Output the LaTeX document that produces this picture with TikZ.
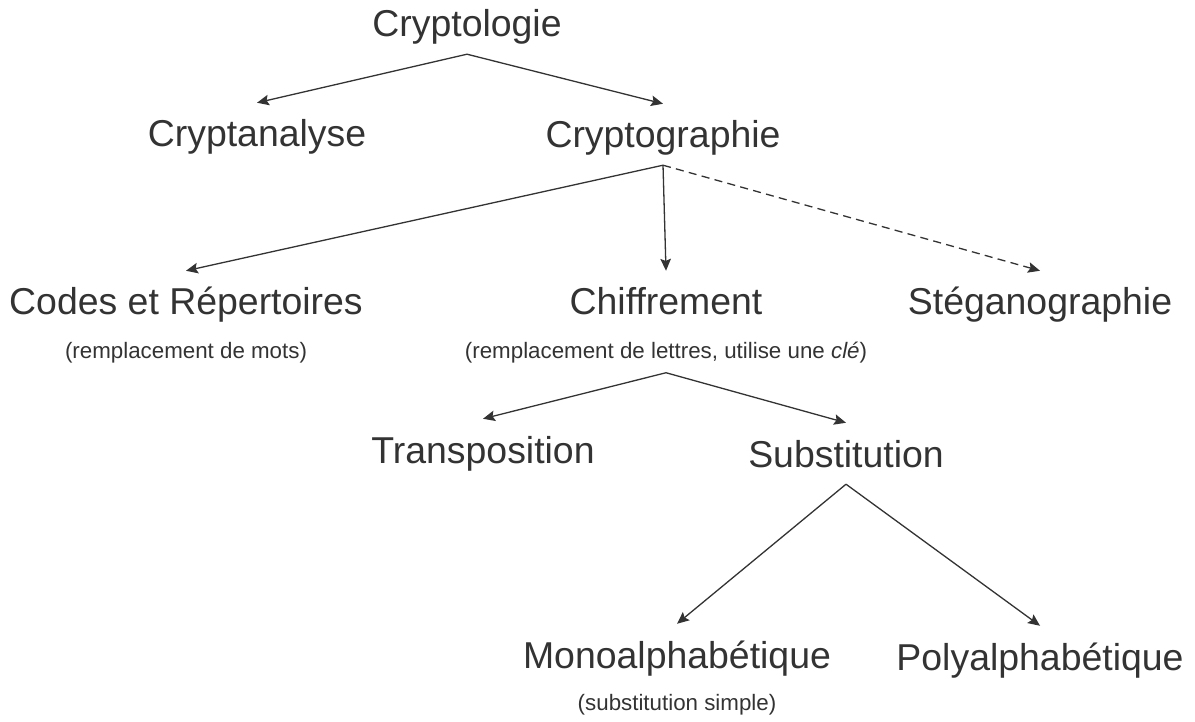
\documentclass[tikz,border=0pt]{standalone}
\usepackage{fontspec}
\setmainfont{Liberation Sans}
\usepackage{tikz}
\usetikzlibrary{positioning, arrows.meta, calc}
\definecolor{ink}{HTML}{333333}
\tikzset{
    term/.style={anchor=base, text=ink, inner xsep=0pt, inner ysep=0.165cm,
        text height=0.27cm, text depth=0pt, font=\fontsize{10.64}{12}\selectfont},
    note/.style={anchor=base, text=ink, inner xsep=0pt, inner ysep=0.14cm,
        text height=0.16cm, text depth=0pt, font=\fontsize{6.35}{8}\selectfont},
    link/.style={draw=ink, line width=0.37pt,
        -{Stealth[length=3.4pt, width=3pt, inset=0.6pt]}},
    hidden link/.style={link, dash pattern=on 2.3pt off 1.5pt}
}

\begin{document}
\begin{tikzpicture}[x=0.01cm, y=-0.01cm]
    \useasboundingbox (0,0) rectangle (1195,722);

    % terms
    \node[term] (cryptologie)   at (467,37)  {Cryptologie};
    \node[term] (cryptanalyse)  at (257,147) {Cryptanalyse};
    \node[term] (cryptographie) at (663,148) {Cryptographie};
    \node[term] (codes)         at (186,315) {Codes et Répertoires};
    \node[term] (chiffrement)   at (666,315) {Chiffrement};
    \node[term] (stegano)       at (1040,315) {Stéganographie};
    \node[term] (transposition) at (483,463) {Transposition};
    \node[term] (substitution)  at (846,467) {Substitution};
    \node[term] (mono)          at (677,668) {Monoalphabétique};
    \node[term] (poly)          at (1040,670) {Polyalphabétique};

    % notes
    \node[note] (codes-note) at ([yshift=-0.43cm]codes.base) {(remplacement de mots)};
    \node[note] (chiffrement-note) at ([yshift=-0.43cm]chiffrement.base)
        {(remplacement de lettres, utilise une \textit{clé})};
    \node[note] (mono-note) at ([yshift=-0.42cm]mono.base) {(substitution simple)};

    % arrows
    \foreach \from/\to in {
        cryptologie/cryptanalyse, cryptologie/cryptographie,
        cryptographie/codes, cryptographie/chiffrement,
        chiffrement-note/transposition, chiffrement-note/substitution,
        substitution/mono, substitution/poly}
    {
        \draw[link] (\from.south) -- (\to.north);
    }
    \draw[hidden link] (cryptographie.south) -- (stegano.north);
\end{tikzpicture}
\end{document}
